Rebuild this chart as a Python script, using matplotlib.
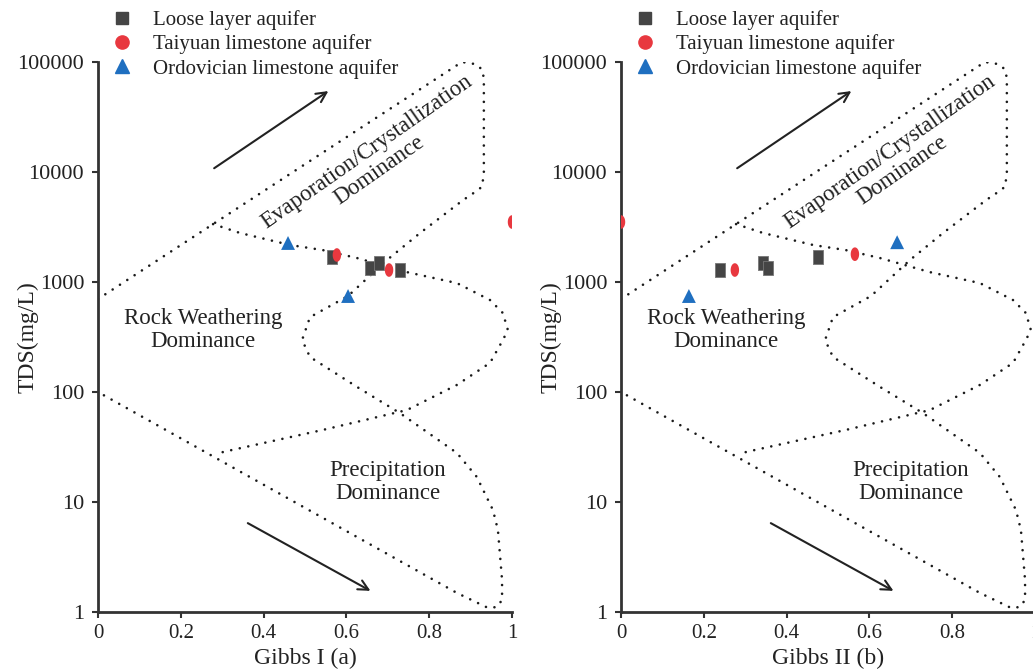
import numpy as np
import matplotlib
matplotlib.use("Agg")
import matplotlib.pyplot as plt
from matplotlib.lines import Line2D

plt.rcParams['font.family'] = ['Liberation Serif', 'DejaVu Serif']

# ---------------- data ----------------
series_names = ["Loose layer aquifer", "Taiyuan limestone aquifer", "Ordovician limestone aquifer"]

# Gibbs I (a): Na/(Na+Ca)
loose_g1 = [0.565, 0.657, 0.679, 0.729]
loose_tds_g1 = [1687, 1340, 1489, 1285]
taiyuan_g1 = [0.577, 0.703, 1.0]
taiyuan_tds_g1 = [1760, 1285, 3510]
ordo_g1 = [0.459, 0.604]
ordo_tds_g1 = [2264, 746]

# Gibbs II (b): Cl/(Cl+HCO3)
loose_g2 = [0.239, 0.343, 0.355, 0.476]
loose_tds_g2 = [1285, 1489, 1340, 1690]
taiyuan_g2 = [0.0, 0.275, 0.565]
taiyuan_tds_g2 = [3510, 1285, 1790]
ordo_g2 = [0.667, 0.164]
ordo_tds_g2 = [2300, 746]

# Gibbs boundary (outer envelope) and inner rock-weathering boundary
outer_x = [0.0, 0.879, 0.913, 0.928, 0.932, 0.932, 0.928, 0.918, 0.882, 0.778, 0.698, 0.604,
           0.512, 0.493, 0.512, 0.626, 0.729, 0.867, 0.915, 0.954, 0.966, 0.976, 0.976,
           0.964, 0.942, 0.867, 0.0]
outer_tds = [700, 100000, 95500, 85100, 70800, 10000, 7400, 6860, 5560, 2790, 1585, 746,
             479, 297, 208, 111, 64.4, 27.9, 16.9, 8.45, 5.56, 1.95, 1.29,
             1.11, 1.09, 1.49, 100]
inner_x = [0.278, 0.343, 0.464, 0.543, 0.626, 0.746, 0.867, 0.947, 0.978, 0.990, 0.978,
           0.947, 0.867, 0.746, 0.543, 0.302, 0.287]
inner_tds = [3360, 2790, 2170, 1950, 1650, 1230, 977, 685, 522, 366, 297,
             184, 116, 68.5, 45.2, 28.5, 26.7]

y_ticks = [1, 10, 100, 1000, 10000, 100000]
y_ticklabels = ["1", "10", "100", "1000", "10000", "100000"]
x_ticks = [0, 0.2, 0.4, 0.6, 0.8, 1.0]
x_ticklabels = ["0", "0.2", "0.4", "0.6", "0.8", "1"]

# ---------------- styling ----------------
c_sq = "#454545"
c_ci = "#e8383f"
c_tr = "#1f6fc0"
txt_c = "#222222"

t = np.linspace(0, 2 * np.pi, 40)
ellipse = np.column_stack([0.62 * np.cos(t), np.sin(t)])
tall_sq = [(-0.72, -1), (0.72, -1), (0.72, 1), (-0.72, 1), (-0.72, -1)]

W, H = 1033, 672
fig = plt.figure(figsize=(W / 100, H / 100), dpi=100)

def px_axes(x0, x1, y0, y1):
    return fig.add_axes([x0 / W, 1 - y1 / H, (x1 - x0) / W, (y1 - y0) / H])

axA = px_axes(98, 512, 62, 612)
axB = px_axes(621, 1035, 62, 612)

panels = [
    (axA, loose_g1, loose_tds_g1, taiyuan_g1, taiyuan_tds_g1, ordo_g1, ordo_tds_g1, "Gibbs I (a)", 98),
    (axB, loose_g2, loose_tds_g2, taiyuan_g2, taiyuan_tds_g2, ordo_g2, ordo_tds_g2, "Gibbs II (b)", 621),
]

dot = (0, (0.01, 3.3))
for ax, lx, ly, tx, ty, ox, oy, xlabel, x0px in panels:
    ax.set_yscale('log')
    ax.set_xlim(0, 1)
    ax.set_ylim(1, 100000)
    for cx, cy in [(outer_x, outer_tds), (inner_x, inner_tds)]:
        ax.plot(cx, cy, color="#1a1a1a", lw=1.9, linestyle=dot, dash_capstyle='round')

    ax.scatter(lx, ly, marker=tall_sq, s=9.8 ** 2, color=c_sq, edgecolor="#777777", linewidths=0.6, zorder=5)
    ax.scatter(tx, ty, marker=ellipse, s=9.8 ** 2, color=c_ci, edgecolor='none', zorder=5)
    ax.scatter(ox, oy, marker='^', s=10.0 ** 2, color=c_tr, edgecolor='none', zorder=5)

    # arrows
    ax.annotate("", xy=(0.562, 10 ** 4.75), xytext=(0.275, 10 ** 4.02),
                arrowprops=dict(arrowstyle="->", color="#222222", lw=1.5, mutation_scale=18))
    ax.annotate("", xy=(0.664, 10 ** 0.18), xytext=(0.356, 10 ** 0.82),
                arrowprops=dict(arrowstyle="->", color="#222222", lw=1.5, mutation_scale=18))

    ax.text(0.665, 10 ** 4.1, "Evaporation/Crystallization\nDominance", rotation=35,
            rotation_mode='anchor', ha='center', va='center', multialignment='center',
            fontsize=16.5, color=txt_c, linespacing=1.05)
    ax.text(0.254, 10 ** 2.564, "Rock Weathering\nDominance", ha='center', va='center',
            fontsize=16.5, color=txt_c, linespacing=1.1)
    ax.text(0.70, 10 ** 1.182, "Precipitation\nDominance", ha='center', va='center',
            fontsize=16.5, color=txt_c, linespacing=1.1)

    for s in ['top', 'right']:
        ax.spines[s].set_visible(False)
    for s in ['left', 'bottom']:
        ax.spines[s].set_linewidth(2.0)
        ax.spines[s].set_color("#333333")
    ax.set_yticks(y_ticks)
    ax.set_yticklabels(y_ticklabels)
    ax.yaxis.set_minor_locator(matplotlib.ticker.NullLocator())
    ax.set_xticks(x_ticks)
    ax.set_xticklabels(x_ticklabels)
    ax.tick_params(axis='both', which='major', direction='out', length=4, width=1.5,
                   color="#333333", labelcolor=txt_c)
    ax.tick_params(axis='y', labelsize=16, pad=6)
    ax.tick_params(axis='x', labelsize=15, pad=5)
    ax.set_ylabel("TDS(mg/L)", fontsize=17, color=txt_c, va='center')
    ax.yaxis.set_label_coords(-0.168, 0.5)
    ax.set_xlabel(xlabel, fontsize=17, color=txt_c, labelpad=3)

    handles = [
        Line2D([], [], marker='s', linestyle='none', color=c_sq, markersize=8.5),
        Line2D([], [], marker='o', linestyle='none', color=c_ci, markersize=9.5),
        Line2D([], [], marker='^', linestyle='none', color=c_tr, markersize=10),
    ]
    fig.legend(handles, series_names, loc='upper left',
               bbox_to_anchor=((x0px + 14) / W, 1 - 10.5 / H), frameon=False,
               fontsize=15, handlelength=1.0, handletextpad=0.95, labelspacing=0.2,
               borderpad=0, borderaxespad=0, labelcolor=txt_c)

fig.savefig("out.png", dpi=100)
